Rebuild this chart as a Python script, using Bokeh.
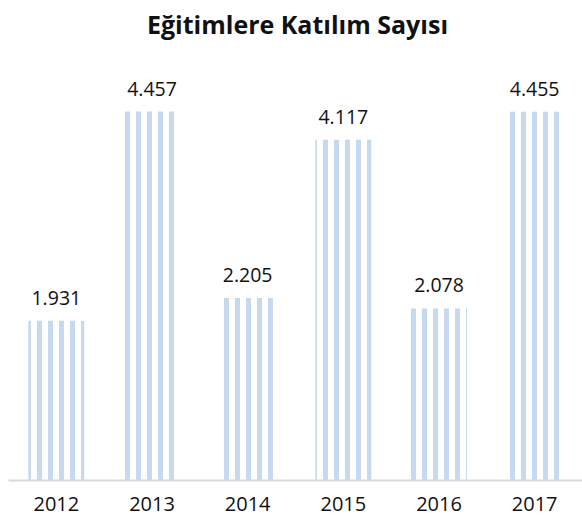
from bokeh.plotting import figure
from bokeh.models import ColumnDataSource, Range1d, LabelSet, Label, FixedTicker
from bokeh.core.properties import value
from bokeh.embed import file_html
from bokeh.resources import INLINE

years = ["2012", "2013", "2014", "2015", "2016", "2017"]
values = [1931, 4457, 2205, 4117, 2078, 4455]
title_text = "Eğitimlere Katılım Sayısı"

labels = [f"{v:,}".replace(",", ".") for v in values]
xs = list(range(len(years)))

src = ColumnDataSource(dict(x=xs, top=values, label=labels))

p = figure(width=582, height=518, output_backend="svg", toolbar_location=None,
           x_range=Range1d(-0.5, 5.5), y_range=Range1d(0, 5798),
           min_border_left=8, min_border_right=0, min_border_top=0, min_border_bottom=38)
p.outline_line_color = None
p.background_fill_color = "white"
p.border_fill_color = "white"
p.grid.visible = False
p.yaxis.visible = False

p.vbar(x="x", top="top", width=0.585, source=src,
       fill_color=None, line_color=None,
       hatch_pattern="vertical_line", hatch_color="#c5d9ef",
       hatch_scale=11, hatch_weight=5)

p.add_layout(LabelSet(x="x", y="top", text="label", source=src,
                      text_align="center", text_baseline="alphabetic",
                      y_offset=16, text_font=value("Open Sans"),
                      text_font_size=value("19.5px"), text_color="#111111"))

p.add_layout(Label(x=289, y=457, x_units="screen", y_units="screen",
                   text=title_text, text_align="center", text_baseline="middle",
                   text_font="Open Sans", text_font_style="bold",
                   text_font_size="25px", text_color="#111111"))

xa = p.xaxis[0]
xa.ticker = FixedTicker(ticks=xs)
xa.major_label_overrides = {i: y for i, y in zip(xs, years)}
xa.axis_line_color = "#d9d9d9"
xa.axis_line_width = 2
xa.major_tick_line_color = None
xa.minor_tick_line_color = None
xa.major_label_text_font = "Open Sans"
xa.major_label_text_font_size = "20px"
xa.major_label_text_color = "#111111"
xa.major_label_standoff = 10

open("out.html", "w").write(file_html(p, INLINE))
